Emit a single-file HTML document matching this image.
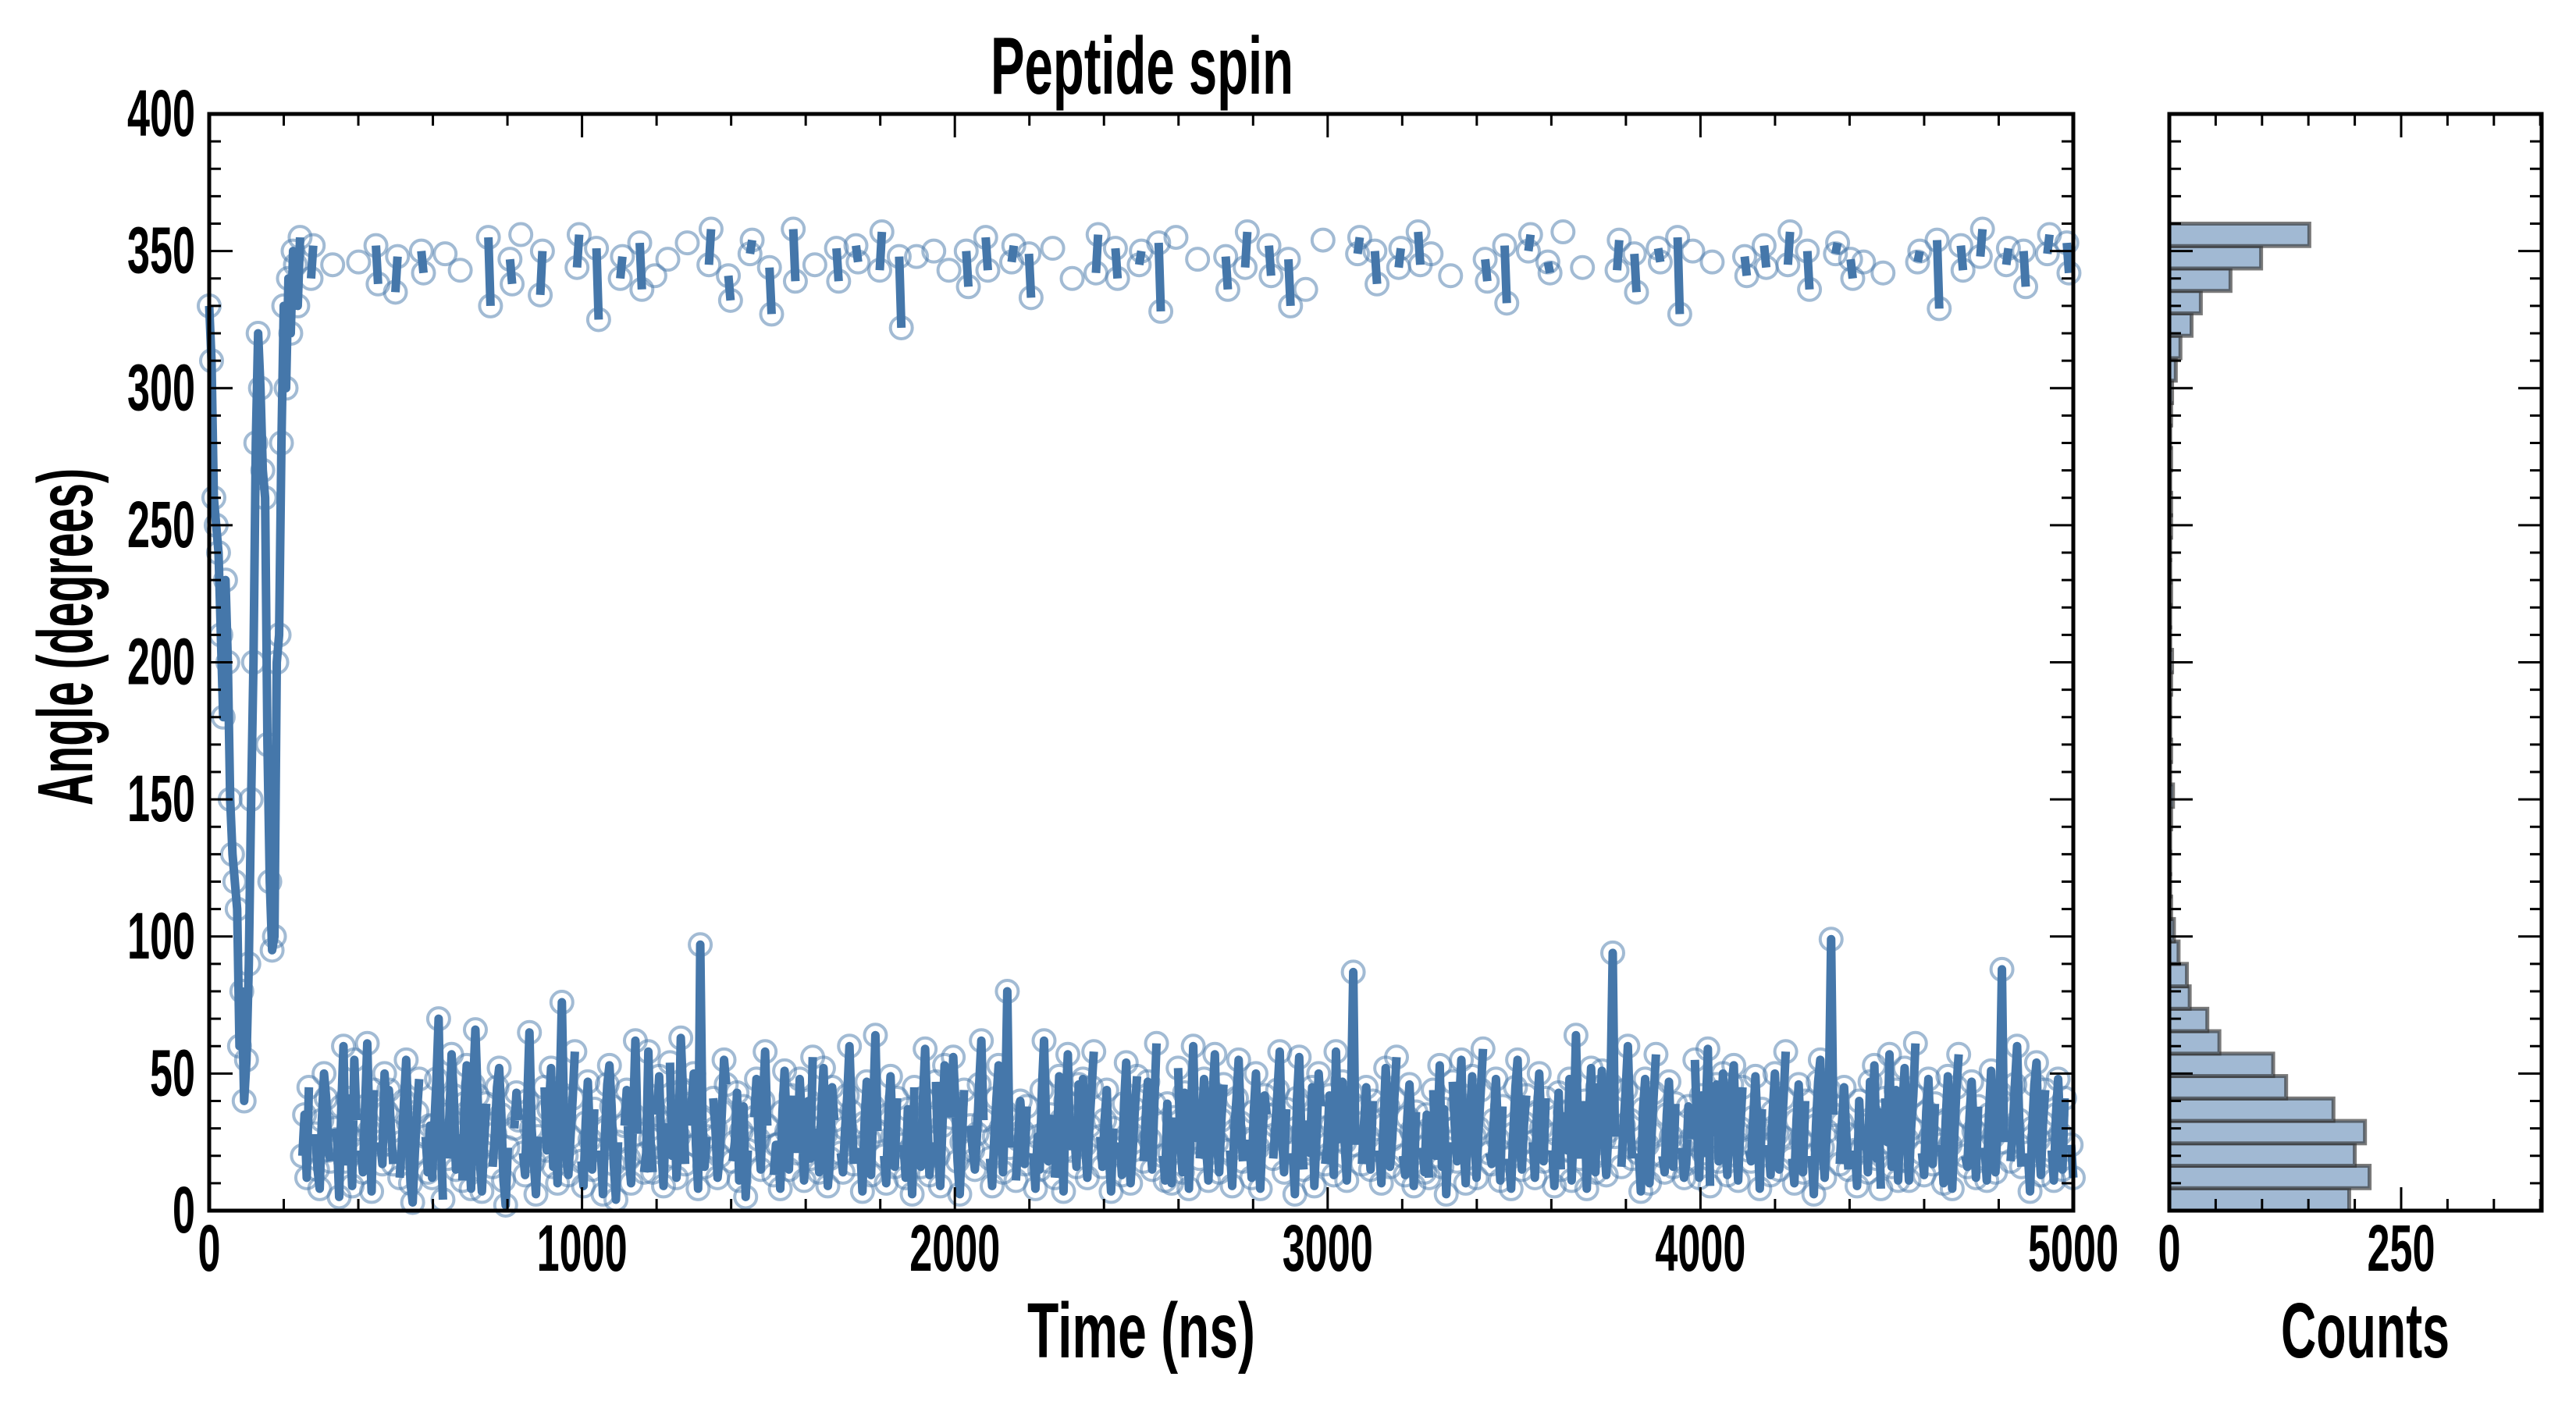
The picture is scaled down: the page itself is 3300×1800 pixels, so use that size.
<!DOCTYPE html>
<html><head><meta charset="utf-8"><style>
html,body{margin:0;padding:0;background:#fff;}
svg{display:block;}
text{font-family:"Liberation Sans Narrow","Liberation Sans","DejaVu Sans Condensed",sans-serif;font-weight:bold;fill:#000;}
</style></head><body>
<svg id="chart" width="3300" height="1800" viewBox="0 0 3300 1800" xmlns="http://www.w3.org/2000/svg">
<text x="1463" y="120" font-size="104" text-anchor="middle" textLength="388" lengthAdjust="spacingAndGlyphs">Peptide spin</text>
<text x="1462" y="1739" font-size="100" text-anchor="middle" textLength="292" lengthAdjust="spacingAndGlyphs">Time (ns)</text>
<text x="3030" y="1739" font-size="100" text-anchor="middle" textLength="216" lengthAdjust="spacingAndGlyphs">Counts</text>
<text transform="translate(118,816) rotate(-90)" x="0" y="0" font-size="100" text-anchor="middle" textLength="432" lengthAdjust="spacingAndGlyphs">Angle (degrees)</text>
<g id="main"></g>
<g id="hist"></g>
</svg>
<script>
const earlyAngles=[330,310,260,250,240,210,180,230,200,150,130,120,110,60,80,40,55,90,150,200,280,320,300,270,260,170,120,95,100,200,210,280,330,300,340,320,350,345,330,355];
const laterAngles=[
20,35,12,45,340,352,28,15,8,33,50,41,22,18,345,30,26,5,38,60,
18,41,27,9,55,33,346,22,14,38,61,29,7,44,352,338,25,17,50,36,
44,29,17,335,348,12,25,40,55,32,10,3,21,36,48,350,342,27,14,31,
12,31,48,70,26,4,349,19,35,57,42,15,28,343,11,39,53,24,8,46,
66,42,19,7,24,39,355,330,16,28,45,52,35,11,2,23,347,338,30,43,
33,356,21,13,40,65,30,18,6,27,334,350,45,22,37,52,16,29,10,43,
76,34,20,13,27,41,58,344,356,18,9,32,47,26,15,37,351,325,22,6,
29,46,53,38,17,4,25,340,348,31,44,19,10,35,62,28,353,336,14,21,
58,26,14,341,35,49,23,9,32,347,54,20,38,12,27,63,44,17,353,31,
39,50,24,8,97,33,16,27,345,358,41,30,12,20,36,55,46,341,332,18,
25,43,11,29,38,5,22,349,354,34,48,26,15,40,58,31,344,327,13,24,
24,8,36,51,29,15,42,358,339,21,48,33,11,26,40,19,56,345,30,14,
37,52,28,9,19,45,33,351,339,21,14,30,42,60,36,17,352,346,23,7,
32,47,26,13,38,64,29,343,357,20,10,35,49,27,16,41,348,322,24,12,
37,22,6,45,348,28,16,41,59,34,13,25,350,47,20,9,31,53,38,343,
34,56,39,18,6,25,44,350,337,31,22,15,28,46,62,33,355,343,19,9,
27,41,53,30,14,36,80,23,346,352,11,26,40,29,17,38,349,333,21,8,
27,15,44,62,29,18,35,351,12,24,49,33,7,40,57,22,340,28,16,46,
35,48,24,12,31,45,58,342,356,27,16,33,44,20,7,30,351,340,25,13,
39,54,28,10,22,37,49,345,350,18,34,47,26,15,39,61,353,328,20,11,
39,21,10,34,355,52,26,14,43,30,8,37,60,25,347,19,32,48,23,11,
30,43,57,25,14,33,46,348,336,22,9,29,41,55,32,18,344,357,26,12,
36,50,23,8,27,42,35,352,341,19,31,44,58,28,14,37,347,330,21,6,
41,56,28,15,336,33,21,45,9,27,50,38,354,17,24,42,31,13,58,26,
33,47,25,11,29,43,87,24,349,355,17,32,45,27,15,40,350,338,22,10,
31,52,38,16,26,41,56,344,351,20,13,34,46,29,9,36,357,345,23,14,
35,12,349,44,20,29,53,16,37,6,25,341,47,30,18,39,55,23,10,32,
35,49,27,12,30,44,59,347,339,21,17,33,48,26,11,38,352,331,19,8,
28,45,55,24,15,32,42,350,356,25,12,36,50,30,18,41,346,342,22,9,
28,43,15,357,36,22,48,11,31,64,27,19,344,40,8,34,52,24,14,45,
34,51,26,13,29,46,94,27,343,354,16,31,44,60,33,19,349,335,21,7,
37,48,24,10,28,43,57,351,346,20,14,35,47,27,16,39,355,327,23,12,
17,38,26,350,55,30,12,42,21,35,59,9,346,27,46,18,33,50,25,13,
32,46,53,25,11,30,45,348,341,22,18,34,49,29,8,37,352,344,24,13,
36,50,28,15,27,41,58,345,357,19,10,33,46,26,14,40,350,336,20,6,
31,47,55,23,12,29,44,99,35,349,353,17,32,45,28,15,347,340,22,9,
40,22,346,31,14,47,28,53,19,36,8,342,41,25,57,16,30,44,11,35,
38,52,26,11,30,42,61,346,350,21,13,36,48,27,17,39,354,329,24,10,
33,49,24,8,28,45,57,352,343,20,16,34,47,29,12,38,348,358,23,11,
35,51,27,14,31,43,88,25,345,351,18,30,46,60,33,16,350,337,21,7,
30,46,54,26,13,32,44,349,356,22,11,35,48,28,15,41,353,342,24,12];
const timeMax=5000;
const xTickLabels=["0","1000","2000","3000","4000","5000"];
const yTickLabels=["0","50","100","150","200","250","300","350","400"];
const histCounts=[194,216,200,211,177,126,112,54,41,22,19,10,5,2,1,1,1,2,4,1,2,1,1,2,3,1,1,2,1,1,2,2,1,2,1,2,3,7,12,24,34,66,99,151];
const histTickLabels=["0","250"];

const NS="http://www.w3.org/2000/svg";
const ML=268,MR=2656,MT=146,MB=1551;
const HL=2779,HR=3256;
const xS=t=>ML+(t/timeMax)*(MR-ML);
const yS=a=>MB-(a/400)*(MB-MT);
const hS=c=>HL+c*(297/250);
function mk(tag,attrs,parent){const e=document.createElementNS(NS,tag);for(const k in attrs)e.setAttribute(k,attrs[k]);parent.appendChild(e);return e;}
const main=document.getElementById('main');
const hist=document.getElementById('hist');
const angles=earlyAngles.concat(laterAngles);
const nEarly=earlyAngles.length;
const times=angles.map((a,i)=>i<nEarly? i*(250/nEarly) : 250+(i-nEarly)*((timeMax-250)/(laterAngles.length-1)));
const col="#4577aa";
const cg=mk('g',{},main);


angles.forEach((a,i)=>{
  const c=mk('circle',{cx:xS(times[i]),cy:yS(a),r:14,fill:'none',stroke:col,'stroke-width':4,'stroke-opacity':0.5},cg);
  
  
});
const lg=mk('g',{},main);


let d="";let pen=false;
for(let i=0;i<angles.length;i++){
  if(i>0 && Math.abs(angles[i]-angles[i-1])<180){
    if(!pen){d+="M"+xS(times[i-1])+" "+yS(angles[i-1]);pen=true;}
    d+="L"+xS(times[i])+" "+yS(angles[i]);
  } else pen=false;
}
const p=mk('path',{d:d,fill:'none',stroke:col,'stroke-width':11,'stroke-linejoin':'round'},lg);


const fr=mk('rect',{x:ML,y:MT,width:MR-ML,height:MB-MT,fill:'none',stroke:'#000','stroke-width':5},main);


const tg=mk('g',{stroke:'#000','stroke-width':3},main);


for(let t=0;t<=timeMax;t+=200){
  const x=xS(t);const L=(t%1000===0)?30:15;
  mk('line',{x1:x,x2:x,y1:MB,y2:MB-L},tg);
  mk('line',{x1:x,x2:x,y1:MT,y2:MT+L},tg);
}
for(let a=0;a<=400;a+=10){
  const y=yS(a);const L=(a%50===0)?30:15;
  mk('line',{x1:ML,x2:ML+L,y1:y,y2:y},tg);
  mk('line',{x1:MR,x2:MR-L,y1:y,y2:y},tg);
}
xTickLabels.forEach((s,i)=>{
  const t=mk('text',{x:xS(i*1000),y:1628,'font-size':84,'text-anchor':'middle',textLength:s.length*29,lengthAdjust:'spacingAndGlyphs'},main);
  t.textContent=s;
  
  
});
yTickLabels.forEach((s,i)=>{
  const t=mk('text',{x:250,y:yS(i*50)+28,'font-size':84,'text-anchor':'end',textLength:s.length*29,lengthAdjust:'spacingAndGlyphs'},main);
  t.textContent=s;
  
  
});
const bw=360/histCounts.length;
histCounts.forEach((c,i)=>{
  const y0=yS(i*bw),y1=yS((i+1)*bw);
  const r=mk('rect',{x:HL,y:y1,width:hS(c)-HL,height:y0-y1,fill:'#a1b9d3',stroke:'#333','stroke-opacity':0.65,'stroke-width':5},hist);
  
  
});
const hf=mk('rect',{x:HL,y:MT,width:HR-HL,height:MB-MT,fill:'none',stroke:'#000','stroke-width':5},hist);


const htg=mk('g',{stroke:'#000','stroke-width':3},hist);


for(let c=0;hS(c)<=HR;c+=50){
  const x=hS(c);const L=(c%250===0)?30:15;
  mk('line',{x1:x,x2:x,y1:MB,y2:MB-L},htg);
  mk('line',{x1:x,x2:x,y1:MT,y2:MT+L},htg);
}
for(let a=0;a<=400;a+=10){
  const y=yS(a);const L=(a%50===0)?30:15;
  mk('line',{x1:HL,x2:HL+L,y1:y,y2:y},htg);
  mk('line',{x1:HR,x2:HR-L,y1:y,y2:y},htg);
}
histTickLabels.forEach((s,i)=>{
  const t=mk('text',{x:hS(i*250),y:1628,'font-size':84,'text-anchor':'middle',textLength:s.length*29,lengthAdjust:'spacingAndGlyphs'},hist);
  t.textContent=s;
  
  
});
</script>
</body></html>
